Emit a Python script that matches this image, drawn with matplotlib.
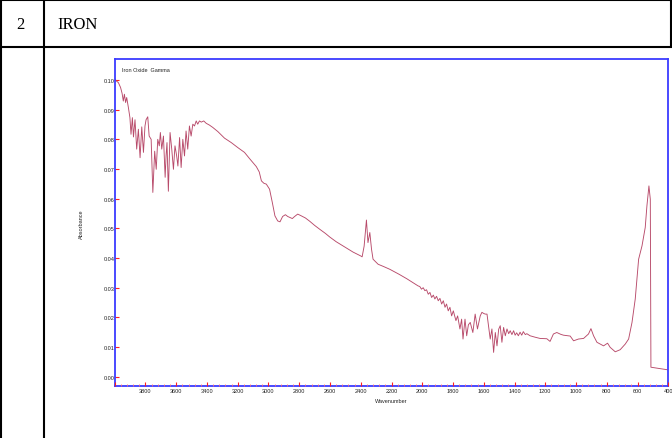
import matplotlib
matplotlib.use("Agg")
import matplotlib.pyplot as plt
from matplotlib.ticker import FixedLocator, MultipleLocator

plt.rcParams["font.family"] = ["Liberation Sans", "DejaVu Sans"]

# ---- text content ----
row_number = "2"
sample_name = "IRON"
spectrum_title = "Iron Oxide  Gamma"
x_label = "Wavenumber"
y_label = "Absorbance"

# ---- FTIR spectrum (wavenumber in cm-1, absorbance) ----
wavenumber = [
    4000, 3990, 3976, 3962, 3952, 3944, 3937, 3929, 3922, 3911, 3901, 3894,
    3885, 3878, 3868, 3857, 3846, 3835, 3824, 3813, 3803, 3796, 3785, 3776,
    3763, 3752, 3740, 3730, 3720, 3710, 3703, 3694, 3683, 3672, 3666, 3660,
    3651, 3640, 3629, 3618, 3608, 3597, 3589, 3578, 3568, 3557, 3546, 3536,
    3525, 3514, 3503, 3492, 3481, 3470, 3460, 3449, 3437, 3421, 3405, 3384,
    3362, 3329, 3296, 3286, 3242, 3199, 3156, 3123, 3095, 3079, 3060, 3046,
    3030, 3014, 2993, 2975, 2958, 2940, 2925, 2908, 2890, 2875, 2862, 2845,
    2830, 2810, 2790, 2760, 2732, 2700, 2667, 2630, 2602, 2560, 2504, 2450,
    2400, 2391, 2378, 2363, 2353, 2341, 2330, 2320, 2287, 2250, 2211, 2150,
    2100, 2060, 2027, 2016, 2005, 1994, 1983, 1972, 1961, 1950, 1939, 1928,
    1918, 1907, 1896, 1885, 1874, 1863, 1852, 1842, 1831, 1820, 1809, 1798,
    1781, 1770, 1755, 1744, 1735, 1722, 1711, 1700, 1688, 1671, 1656, 1641,
    1623, 1612, 1600, 1590, 1579, 1569, 1558, 1547, 1536, 1525, 1514, 1503,
    1493, 1482, 1471, 1460, 1449, 1438, 1428, 1417, 1406, 1396, 1386, 1375,
    1364, 1353, 1343, 1330, 1320, 1299, 1265, 1234, 1190, 1169, 1147, 1125,
    1100, 1082, 1038, 1016, 984, 951, 919, 903, 886, 864, 821, 795,
    778, 745, 713, 680, 658, 636, 615, 593, 571, 550, 539, 526,
    517, 513, 400,
]
absorbance = [
    0.1005, 0.0997, 0.0991, 0.0975, 0.0955, 0.0929, 0.0952, 0.0924, 0.0941, 0.0907, 0.0873, 0.0817,
    0.0873, 0.0808, 0.0866, 0.0767, 0.0834, 0.0738, 0.0842, 0.0756, 0.0845, 0.0866, 0.0876, 0.0811,
    0.0800, 0.0621, 0.0760, 0.0699, 0.0800, 0.0778, 0.0823, 0.0767, 0.0811, 0.0672, 0.0744, 0.0789,
    0.0625, 0.0823, 0.0767, 0.0699, 0.0778, 0.0744, 0.0710, 0.0806, 0.0705, 0.0800, 0.0744, 0.0828,
    0.0767, 0.0845, 0.0811, 0.0851, 0.0845, 0.0862, 0.0851, 0.0862, 0.0858, 0.0862, 0.0854, 0.0848,
    0.0840, 0.0826, 0.0809, 0.0804, 0.0789, 0.0772, 0.0756, 0.0735, 0.0718, 0.0708, 0.0690, 0.0660,
    0.0652, 0.0649, 0.0632, 0.0587, 0.0542, 0.0525, 0.0522, 0.0540, 0.0546, 0.0540, 0.0537, 0.0533,
    0.0540, 0.0548, 0.0543, 0.0535, 0.0524, 0.0510, 0.0497, 0.0483, 0.0471, 0.0455, 0.0437, 0.0420,
    0.0407, 0.0404, 0.0440, 0.0528, 0.0452, 0.0486, 0.0430, 0.0396, 0.0379, 0.0371, 0.0362, 0.0345,
    0.0330, 0.0317, 0.0306, 0.0304, 0.0295, 0.0300, 0.0290, 0.0293, 0.0278, 0.0284, 0.0267, 0.0275,
    0.0262, 0.0271, 0.0256, 0.0264, 0.0245, 0.0256, 0.0234, 0.0245, 0.0222, 0.0234, 0.0205, 0.0222,
    0.0189, 0.0205, 0.0161, 0.0194, 0.0127, 0.0194, 0.0138, 0.0175, 0.0183, 0.0149, 0.0211, 0.0161,
    0.0205, 0.0217, 0.0213, 0.0211, 0.0211, 0.0172, 0.0127, 0.0161, 0.0082, 0.0149, 0.0104, 0.0160,
    0.0172, 0.0116, 0.0166, 0.0138, 0.0161, 0.0145, 0.0155, 0.0142, 0.0155, 0.0140, 0.0148, 0.0138,
    0.0150, 0.0140, 0.0152, 0.0142, 0.0145, 0.0138, 0.0133, 0.0129, 0.0128, 0.0119, 0.0144, 0.0149,
    0.0143, 0.0140, 0.0137, 0.0121, 0.0127, 0.0129, 0.0144, 0.0162, 0.0138, 0.0116, 0.0104, 0.0113,
    0.0099, 0.0084, 0.0091, 0.0110, 0.0127, 0.0183, 0.0262, 0.0396, 0.0441, 0.0503, 0.0576, 0.0643,
    0.0598, 0.0032, 0.0023,
]

x_major_ticks = list(range(4000, 399, -200))
x_tick_labels = [""] + [str(v) for v in range(3800, 399, -200)]
y_ticks = [0.00, 0.01, 0.02, 0.03, 0.04, 0.05, 0.06, 0.07, 0.08, 0.09, 0.10]
y_tick_labels = ["0.00", "0.01", "0.02", "0.03", "0.04", "0.05",
                 "0.06", "0.07", "0.08", "0.09", "0.10"]

W, H = 672, 439
fig = plt.figure(figsize=(W / 100, H / 100), dpi=100)

# ---- table frame around the spectrum (pixel coordinates) ----
frame = fig.add_axes([0, 0, 1, 1])
frame.set_xlim(0, W)
frame.set_ylim(H, 0)
frame.axis("off")
tbl = dict(color="black", lw=1.5, solid_capstyle="butt")
frame.plot([0, W], [1, 1], **tbl)
frame.plot([0, W], [48, 48], **tbl)
frame.plot([1, 1], [0, H], **tbl)
frame.plot([44, 44], [0, H], **tbl)
frame.plot([670.5, 670.5], [0, 48], **tbl)
frame.text(20, 29, row_number, family="Liberation Serif", fontsize=12,
           ha="center", va="baseline", color="black")
frame.text(57, 29, sample_name, family="Liberation Serif", fontsize=12,
           ha="left", va="baseline", color="black")

# ---- spectrum axes ----
left, right, top, bottom = 114.7, 668.3, 60.0, 387.3
ax = fig.add_axes([left / W, 1 - bottom / H, (right - left) / W, (bottom - top) / H])
ax.plot(wavenumber, absorbance, color="#b84a6a", lw=0.65)
ax.set_xlim(4000, 400)
ax.set_ylim(-0.00323, 0.10707)

for s in ax.spines.values():
    s.set_color("#3c3cff")
    s.set_linewidth(1.3)

ax.xaxis.set_major_locator(FixedLocator(x_major_ticks))
ax.set_xticklabels(x_tick_labels)
ax.xaxis.set_minor_locator(MultipleLocator(40))
ax.set_yticks(y_ticks)
ax.set_yticklabels(y_tick_labels)

ax.tick_params(axis="x", which="major", direction="in", length=3.2, width=0.8,
               color="#ff2020", labelsize=4, pad=1.2, labelcolor="#222222")
ax.tick_params(axis="x", which="minor", direction="in", length=1.8, width=0.6,
               color="#ff7070")
ax.tick_params(axis="y", which="major", direction="in", length=3.2, width=0.8,
               color="#ff2020", labelsize=4, pad=0.3, labelcolor="#222222")
for lab in ax.get_xticklabels():
    lab.set_bbox(dict(facecolor="white", edgecolor="none", pad=0.4))
ax.xaxis.set_zorder(3)

frame.text(391.5, 402, x_label, fontsize=4, ha="center", va="center", color="#222222")
frame.text(81, 224, y_label, fontsize=4, ha="center", va="center", rotation=90,
           color="#222222")
ax.text(0.013, 0.969, spectrum_title, transform=ax.transAxes, fontsize=4,
        ha="left", va="center", color="#222222")

fig.savefig("out.png", dpi=100)
